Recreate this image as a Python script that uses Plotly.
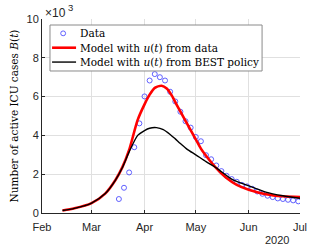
import plotly.graph_objects as go

# Data (values in thousands)
data_dates = ["2020-03-17","2020-03-20","2020-03-23","2020-03-26","2020-03-29",
              "2020-04-01","2020-04-04","2020-04-07","2020-04-10","2020-04-13",
              "2020-04-16","2020-04-19","2020-04-22","2020-04-25","2020-04-28",
              "2020-05-01","2020-05-04","2020-05-07","2020-05-10","2020-05-13",
              "2020-05-16","2020-05-19","2020-05-22","2020-05-25","2020-05-28",
              "2020-05-31","2020-06-03","2020-06-06","2020-06-09","2020-06-12",
              "2020-06-15","2020-06-18","2020-06-21","2020-06-24","2020-06-27","2020-06-30"]
data_vals = [0.72,1.30,2.09,3.39,4.62,6.01,6.83,7.16,7.00,6.83,
             6.25,5.75,5.22,4.73,4.40,3.92,3.70,2.98,2.77,2.45,
             2.16,1.92,1.75,1.61,1.45,1.37,1.25,1.11,0.99,0.89,
             0.82,0.75,0.72,0.68,0.65,0.60]

model_dates = ["2020-02-13","2020-02-20","2020-03-01","2020-03-09","2020-03-15",
               "2020-03-19","2020-03-23","2020-03-28","2020-04-01","2020-04-04",
               "2020-04-07","2020-04-11","2020-04-14","2020-04-17","2020-04-20",
               "2020-04-25","2020-05-01","2020-05-04","2020-05-07","2020-05-13",
               "2020-05-19","2020-05-25","2020-06-01","2020-06-11","2020-06-21","2020-07-01"]
model_vals = [0.13,0.24,0.51,1.00,1.70,2.35,3.25,4.80,5.60,6.10,
              6.45,6.56,6.42,6.05,5.55,4.75,3.80,3.32,2.95,2.31,
              1.80,1.45,1.20,0.97,0.86,0.82]

best_dates = ["2020-02-13","2020-02-20","2020-03-01","2020-03-09","2020-03-15",
              "2020-03-19","2020-03-23","2020-03-28","2020-04-01","2020-04-04",
              "2020-04-08","2020-04-12","2020-04-16","2020-04-19","2020-04-22",
              "2020-04-26","2020-05-01","2020-05-07","2020-05-13","2020-05-22",
              "2020-06-01","2020-06-11","2020-06-21","2020-07-01"]
best_vals = [0.13,0.24,0.51,1.00,1.70,2.33,3.15,4.00,4.25,4.37,
             4.40,4.30,4.05,3.82,3.58,3.28,3.00,2.65,2.33,1.75,
             1.40,1.08,0.89,0.76]

y_ticks = [0, 2, 4, 6, 8, 10]
month_ticks = ["2020-02-01","2020-03-01","2020-04-01","2020-05-01","2020-06-01","2020-07-01"]
month_labels = ["Feb","Mar","Apr","May","Jun","Jul"]

legend_labels = ["Data",
                 "Model with <i>u</i>(<i>t</i>) from data",
                 "Model with <i>u</i>(<i>t</i>) from BEST policy"]

serif = "DejaVu Serif"
sans = "Liberation Sans"
blue = "rgb(80,80,255)"

fig = go.Figure()
fig.add_trace(go.Scatter(
    x=data_dates, y=data_vals, mode="markers", name="Data",
    marker=dict(symbol="circle-open", size=5, color=blue, line=dict(width=0.9))))
fig.add_trace(go.Scatter(
    x=model_dates, y=model_vals, mode="lines",
    line=dict(color="rgb(255,0,0)", width=2.6, shape="spline", smoothing=0.7)))
fig.add_trace(go.Scatter(
    x=best_dates, y=best_vals, mode="lines",
    line=dict(color="black", width=1.4, shape="spline", smoothing=0.7)))

# Legend box drawn in paper coordinates
lx0, lx1, ly0, ly1 = 0.031, 0.853, 0.732, 0.969
rows = [0.926, 0.852, 0.778]
fig.add_shape(type="rect", xref="paper", yref="paper", x0=lx0, x1=lx1, y0=ly0, y1=ly1,
              fillcolor="white", line=dict(color="#8a8a8a", width=1), layer="above")
cx, rx, ry_ = 0.082, 0.0095, 0.0125
fig.add_shape(type="circle", xref="paper", yref="paper",
              x0=cx - rx, x1=cx + rx, y0=rows[0] - ry_, y1=rows[0] + ry_,
              line=dict(color=blue, width=0.9), layer="above")
fig.add_shape(type="line", xref="paper", yref="paper", x0=0.039, x1=0.132, y0=rows[1], y1=rows[1],
              line=dict(color="rgb(255,0,0)", width=2.6), layer="above")
fig.add_shape(type="line", xref="paper", yref="paper", x0=0.039, x1=0.132, y0=rows[2], y1=rows[2],
              line=dict(color="black", width=1.4), layer="above")
for lab, ry in zip(legend_labels, rows):
    fig.add_annotation(text=lab, xref="paper", yref="paper", x=0.14, y=ry,
                       xanchor="left", yanchor="middle", showarrow=False,
                       font=dict(family=serif, size=10.5, color="black"))

fig.update_layout(
    width=332, height=249,
    margin=dict(l=42, r=32, t=19, b=36),
    plot_bgcolor="white", paper_bgcolor="white",
    showlegend=False,
    xaxis=dict(range=["2020-02-01", "2020-07-01"], type="date",
               tickvals=month_ticks, ticktext=month_labels,
               showgrid=True, gridcolor="#e0e0e0", gridwidth=1,
               showline=True, linecolor="#262626", linewidth=1,
               ticks="inside", ticklen=3, tickcolor="#262626",
               tickfont=dict(family=sans, size=11, color="#262626"),
               ticklabelstandoff=4,
               zeroline=False),
    yaxis=dict(range=[0, 10], tickvals=y_ticks, ticktext=[str(v) for v in y_ticks],
               showgrid=True, gridcolor="#e0e0e0", gridwidth=1,
               showline=True, linecolor="#262626", linewidth=1,
               ticks="inside", ticklen=3, tickcolor="#262626",
               tickfont=dict(family=sans, size=11, color="#262626"),
               zeroline=False,
               title=dict(text="Number of active ICU cases <i>B</i>(<i>t</i>)",
                          font=dict(family=serif, size=10.5, color="black"), standoff=5)),
)

fig.add_annotation(text="×10", xref="paper", yref="paper",
                   x=0.004, y=1.0325, xanchor="left", yanchor="middle", showarrow=False,
                   font=dict(family=sans, size=12, color="#262626"))
fig.add_annotation(text="3", xref="paper", yref="paper",
                   x=0.093, y=1.057, xanchor="left", yanchor="middle", showarrow=False,
                   font=dict(family=sans, size=9.5, color="#262626"))
fig.add_annotation(text="2020", xref="paper", yref="paper",
                   x=0.911, y=0, xanchor="center", yanchor="top", showarrow=False,
                   font=dict(family=sans, size=11, color="#262626"), yshift=-19)

fig.write_html("out.html", config={"displayModeBar": False},
               post_script="document.body.style.margin='0';document.body.style.overflow='hidden';")
